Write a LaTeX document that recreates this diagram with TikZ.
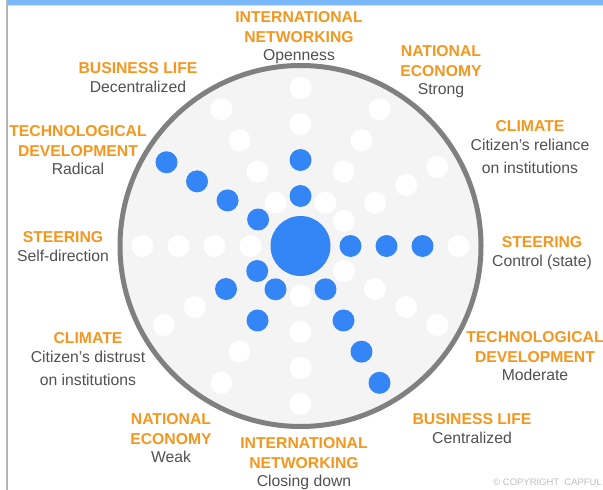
\documentclass[tikz,border=0pt]{standalone}
\usepackage{fontspec}
\setmainfont{Liberation Sans}
\definecolor{capblue}{RGB}{52,134,246}
\definecolor{caporange}{RGB}{245,150,30}
\definecolor{txtgray}{RGB}{80,80,80}
\definecolor{ringgray}{RGB}{128,128,128}
\definecolor{ringfill}{RGB}{244,244,244}
\definecolor{barblue}{RGB}{122,184,250}
\definecolor{barlight}{RGB}{196,222,252}
\definecolor{edgegray}{RGB}{180,180,180}
\definecolor{copygray}{RGB}{190,190,190}
\newcommand\hd[1]{\textcolor{caporange}{\bfseries #1}}
\tikzset{
  lbl/.style={align=center, anchor=north, inner sep=0pt, text=txtgray,
    font=\fontsize{15.8}{20}\selectfont},
  ring/.style={draw=ringgray, line width=5bp, fill=ringfill},
  whitedot/.style={fill=white},
  bluedot/.style={fill=capblue}
}
\begin{document}
\begin{tikzpicture}[x=1bp, y=-1bp]
  \useasboundingbox (0,0) rectangle (603,490);
  % frame
  \fill[barblue] (8,0) rectangle (603,5);
  \fill[barlight] (8,5) rectangle (603,6.5);
  \draw[edgegray, line width=2bp] (7,0) -- (7,490);
  % wheel
  \begin{scope}[shift={(300.5,246)}, y=1bp]
    \draw[ring] (0,0) circle[radius=180.5];
    \foreach \a in {0,30,60,90,120,180,210,240,270,330}
      \foreach \r in {50,86,122,158}
        \fill[whitedot] (\a:\r) circle[radius=11];
    \foreach \a/\r in {90/50,90/86,0/50,0/86,0/122,
        148/50,148/86,148/122,148/158,300/50,300/86,300/122,300/158,
        210/50,210/86,240/50,240/86}
      \fill[bluedot] (\a:\r) circle[radius=11];
    \fill[bluedot] (0,0) circle[radius=30];
  \end{scope}
  % labels
  \node[lbl] (netopen) at (299,11.4) {\hd{INTERNATIONAL}\\\hd{NETWORKING}\\[-2pt]Openness};
  \node[lbl] (ecostrong) at (441,45.4) {\hd{NATIONAL}\\\hd{ECONOMY}\\[-2pt]Strong};
  \node[lbl] (busdec) at (138,62.4) {\hd{BUSINESS LIFE}\\[-1pt]Decentralized};
  \node[lbl] (techrad) at (78,125.4) {\hd{TECHNOLOGICAL}\\\hd{DEVELOPMENT}\\[-2pt]Radical};
  \node[lbl] (climrel) at (530,120.4) {\hd{CLIMATE}\\[-1pt]Citizen’s reliance\\[3pt]on institutions};
  \node[lbl] (steerself) at (63,231.4) {\hd{STEERING}\\[-1pt]Self-direction};
  \node[lbl] (steerctrl) at (542,236) {\hd{STEERING}\\[-1pt]Control (state)};
  \node[lbl] (climdis) at (88,332.4) {\hd{CLIMATE}\\[-1pt]Citizen’s distrust\\[3pt]on institutions};
  \node[lbl] (techmod) at (535,331.4) {\hd{TECHNOLOGICAL}\\\hd{DEVELOPMENT}\\[-2pt]Moderate};
  \node[lbl] (ecoweak) at (171,413.4) {\hd{NATIONAL}\\\hd{ECONOMY}\\[-2pt]Weak};
  \node[lbl] (netclose) at (304,437.4) {\hd{INTERNATIONAL}\\\hd{NETWORKING}\\[-2pt]Closing down};
  \node[lbl] (buscen) at (472,413.4) {\hd{BUSINESS LIFE}\\[-1pt]Centralized};
  \node[anchor=east, inner sep=0pt, text=copygray, font=\fontsize{9.5}{11}\selectfont]
    (copy) at (602,482.5) {\textcopyright{} COPYRIGHT\ \ CAPFUL};
\end{tikzpicture}
\end{document}
